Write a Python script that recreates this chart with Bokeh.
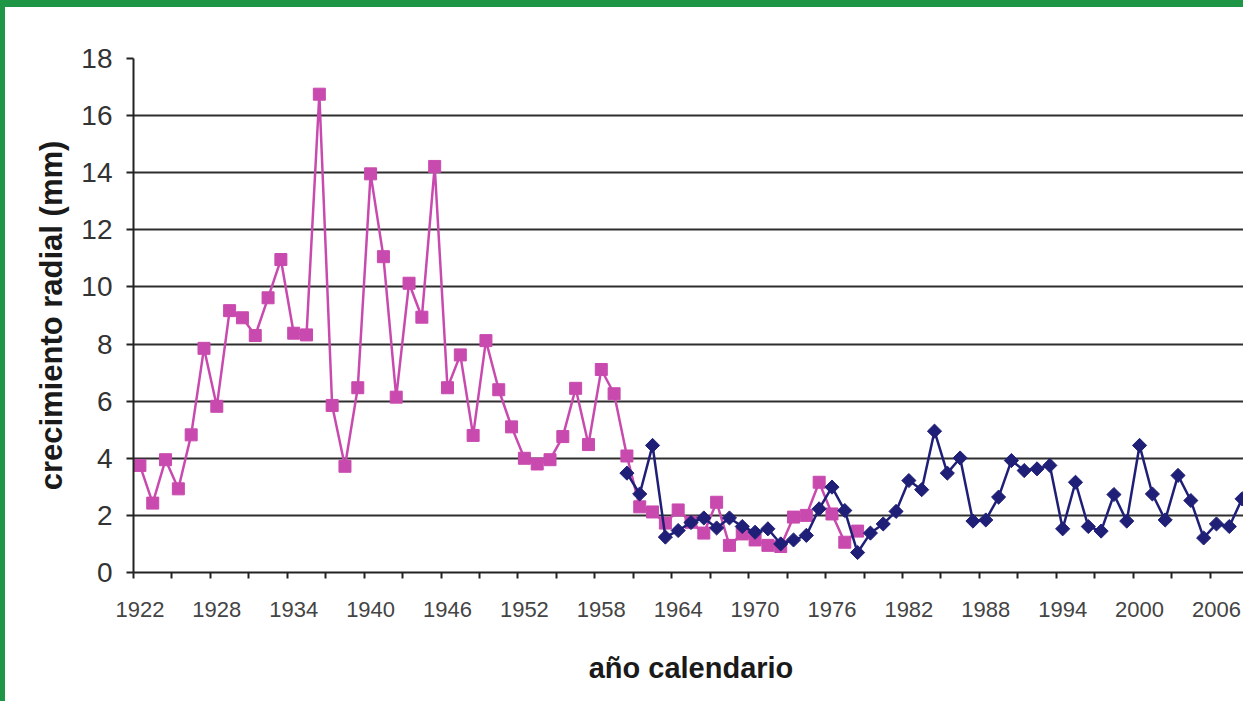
from bokeh.plotting import figure
from bokeh.models import Range1d, FixedTicker
from bokeh.embed import file_html
from bokeh.resources import INLINE

# ---- data ----
pink_years = list(range(1922, 1979))
pink_values = [3.75, 2.43, 3.95, 2.93, 4.82, 7.85, 5.82, 9.17, 8.92, 8.30,
               9.62, 10.96, 8.38, 8.32, 16.75, 5.85, 3.72, 6.47, 13.96, 11.06,
               6.14, 10.13, 8.94, 14.22, 6.47, 7.62, 4.80, 8.12, 6.40, 5.10,
               4.00, 3.80, 3.95, 4.76, 6.45, 4.48, 7.11, 6.26, 4.08, 2.30,
               2.12, 1.73, 2.19, 1.76, 1.38, 2.46, 0.95, 1.35, 1.14, 0.95,
               0.91, 1.94, 2.00, 3.16, 2.05, 1.06, 1.45]

blue_years = list(range(1960, 2009))
blue_values = [3.48, 2.75, 4.45, 1.24, 1.47, 1.75, 1.91, 1.56, 1.91, 1.61,
               1.41, 1.53, 1.00, 1.14, 1.30, 2.23, 2.99, 2.17, 0.70, 1.38,
               1.70, 2.14, 3.22, 2.90, 4.95, 3.48, 4.01, 1.80, 1.84, 2.64,
               3.92, 3.57, 3.63, 3.75, 1.53, 3.16, 1.61, 1.45, 2.73, 1.80,
               4.45, 2.75, 1.84, 3.40, 2.52, 1.21, 1.70, 1.61, 2.58]

x_label_years = list(range(1922, 2007, 6))
x_tick_bounds = [1921.5 + 3 * k for k in range(30)]
y_ticks = list(range(0, 19, 2))
y_grid = list(range(2, 17, 2))

PINK = "#C94AAE"
NAVY = "#1F1F78"
GREEN = "#1E9646"
FONT = "Liberation Sans"

p = figure(width=1243, height=701, output_backend="svg", toolbar_location=None,
           x_range=Range1d(1921.5, 2008.5), y_range=Range1d(0, 18),
           min_border_left=128, min_border_right=0, min_border_top=51,
           min_border_bottom=136,
           styles={"border-top": "7px solid " + GREEN,
                   "border-left": "5px solid " + GREEN})
p.outline_line_color = None
p.background_fill_color = "white"
p.border_fill_color = "white"

# grid
p.xgrid.visible = False
p.ygrid.ticker = FixedTicker(ticks=y_grid)
p.ygrid.grid_line_color = "#2e2e2e"
p.ygrid.grid_line_width = 2

# y axis
ya = p.yaxis[0]
ya.ticker = FixedTicker(ticks=y_ticks)
ya.axis_line_color = "#222222"
ya.axis_line_width = 2
ya.major_tick_line_color = "#222222"
ya.major_tick_line_width = 2
ya.major_tick_out = 7
ya.major_tick_in = 0
ya.minor_tick_line_color = None
ya.major_label_text_font = FONT
ya.major_label_text_font_size = "28px"
ya.major_label_text_color = "#333333"
ya.major_label_standoff = 14
ya.axis_label = "crecimiento radial (mm)"
ya.axis_label_text_font = FONT
ya.axis_label_text_font_style = "bold"
ya.axis_label_text_font_size = "31px"
ya.axis_label_text_color = "#1a1a1a"
ya.axis_label_standoff = 9

# x axis
xa = p.xaxis[0]
xa.ticker = FixedTicker(ticks=x_label_years, minor_ticks=x_tick_bounds)
xa.axis_line_color = "#222222"
xa.axis_line_width = 2
xa.major_tick_line_color = None
xa.minor_tick_line_color = "#222222"
xa.minor_tick_line_width = 2
xa.minor_tick_out = 6
xa.minor_tick_in = 0
xa.major_tick_out = 6
xa.major_label_text_font = FONT
xa.major_label_text_font_size = "22px"
xa.major_label_text_color = "#444444"
xa.major_label_standoff = 23
xa.axis_label = "año calendario"
xa.axis_label_text_font = FONT
xa.axis_label_text_font_style = "bold"
xa.axis_label_text_font_size = "29px"
xa.axis_label_text_color = "#1a1a1a"
xa.axis_label_standoff = 32

# series
p.line(pink_years, pink_values, line_color=PINK, line_width=2.5)
p.scatter(pink_years, pink_values, marker="square", size=12,
          fill_color=PINK, line_color=PINK)
p.line(blue_years, blue_values, line_color=NAVY, line_width=2.5)
p.scatter(blue_years, blue_values, marker="square", angle=0.785398, size=10,
          fill_color=NAVY, line_color=NAVY)

open("out.html", "w").write(file_html(p, INLINE))
